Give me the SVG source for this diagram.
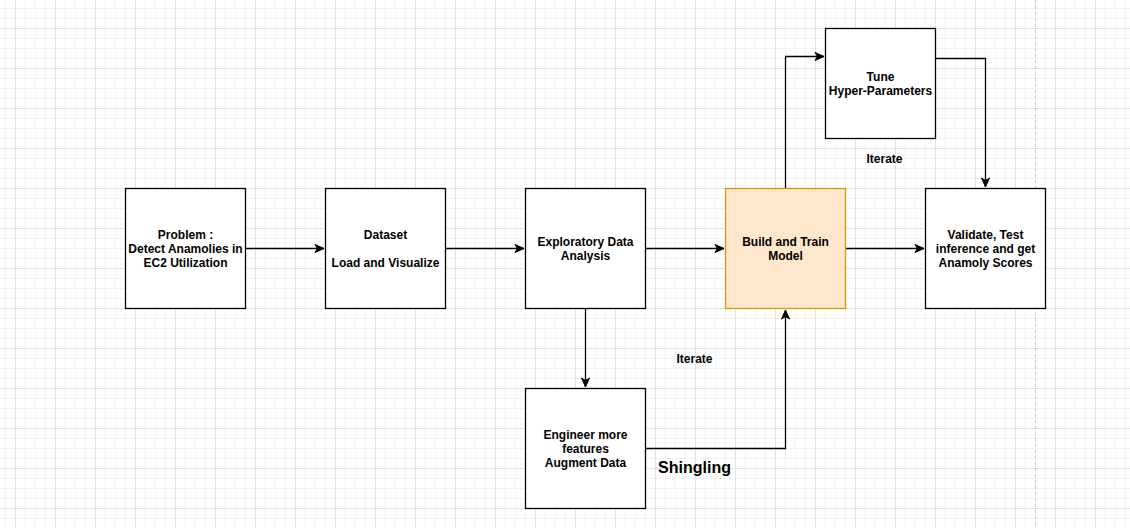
<svg xmlns="http://www.w3.org/2000/svg" width="1130" height="528" viewBox="0 0 1130 528">
  <style>
    .box { fill: #ffffff; stroke: #000000; stroke-width: 1.3; }
    .hot { fill: #ffe6cc; stroke: #d79b00; stroke-width: 1.3; }
    .lbl { font-family: "Liberation Sans", Arial, Helvetica, sans-serif; font-size: 12px; font-weight: bold; fill: #000000; text-anchor: middle; }
    .big { font-size: 16px; }
    .edge { fill: none; stroke: #000000; stroke-width: 1.3; }
  </style>
  <defs>
    <pattern id="grid" patternUnits="userSpaceOnUse" x="15" y="28" width="40" height="40">
      <rect x="10" y="0" width="1" height="40" fill="#f3f3f3"/>
      <rect x="20" y="0" width="1" height="40" fill="#f3f3f3"/>
      <rect x="30" y="0" width="1" height="40" fill="#f3f3f3"/>
      <rect x="0" y="10" width="40" height="1" fill="#f3f3f3"/>
      <rect x="0" y="20" width="40" height="1" fill="#f3f3f3"/>
      <rect x="0" y="30" width="40" height="1" fill="#f3f3f3"/>
      <rect x="0" y="0" width="1" height="40" fill="#e2e2e2"/>
      <rect x="0" y="0" width="40" height="1" fill="#e2e2e2"/>
    </pattern>
    <marker id="arrow" markerUnits="userSpaceOnUse" markerWidth="12" markerHeight="12" refX="10" refY="5" orient="auto">
      <path d="M1,1 L10,5 L1,9 L3.5,5 Z" fill="#000000" stroke="#000000" stroke-width="1"/>
    </marker>
  </defs>

  <!-- canvas background -->
  <rect x="0" y="0" width="1130" height="528" fill="#ffffff"/>
  <rect x="0" y="0" width="1130" height="528" fill="url(#grid)"/>
  <!-- page boundary -->
  <line x1="1035.5" y1="0" x2="1035.5" y2="528" stroke="#c8c8c8" stroke-width="1" stroke-dasharray="3,3"/>

  <!-- connectors -->
  <g id="connectors">
    <path class="edge" d="M245.5,248.5 H324" marker-end="url(#arrow)"/>
    <path class="edge" d="M445.5,248.5 H524" marker-end="url(#arrow)"/>
    <path class="edge" d="M645.5,248.5 H724" marker-end="url(#arrow)"/>
    <path class="edge" d="M845.5,248.5 H924" marker-end="url(#arrow)"/>
    <path class="edge" d="M585.5,308.5 V387" marker-end="url(#arrow)"/>
    <path class="edge" d="M645.5,448.5 H785.5 V310" marker-end="url(#arrow)"/>
    <path class="edge" d="M785.5,188.5 V56.5 H824" marker-end="url(#arrow)"/>
    <path class="edge" d="M935.5,58.5 H985.5 V187" marker-end="url(#arrow)"/>
  </g>

  <g id="problem">
    <rect class="box" x="125.5" y="188.5" width="120" height="120"/>
    <text class="lbl" x="185.5" y="238.5">Problem :</text>
    <text class="lbl" x="185.5" y="252.5">Detect Anamolies in</text>
    <text class="lbl" x="185.5" y="266.5">EC2 Utilization</text>
  </g>

  <g id="dataset">
    <rect class="box" x="325.5" y="188.5" width="120" height="120"/>
    <text class="lbl" x="385.5" y="238.5">Dataset</text>
    <text class="lbl" x="385.5" y="266.5">Load and Visualize</text>
  </g>

  <g id="eda">
    <rect class="box" x="525.5" y="188.5" width="120" height="120"/>
    <text class="lbl" x="585.5" y="246">Exploratory Data</text>
    <text class="lbl" x="585.5" y="259.5">Analysis</text>
  </g>

  <g id="build">
    <rect class="hot" x="725.5" y="188.5" width="120" height="120"/>
    <text class="lbl" x="785.5" y="246">Build and Train</text>
    <text class="lbl" x="785.5" y="259.5">Model</text>
  </g>

  <g id="validate">
    <rect class="box" x="925.5" y="188.5" width="120" height="120"/>
    <text class="lbl" x="985.5" y="238.5">Validate, Test</text>
    <text class="lbl" x="985.5" y="252.5">inference and get</text>
    <text class="lbl" x="985.5" y="266.5">Anamoly Scores</text>
  </g>

  <g id="tune">
    <rect class="box" x="825.5" y="28.5" width="110" height="110"/>
    <text class="lbl" x="880.5" y="81">Tune</text>
    <text class="lbl" x="880.5" y="95">Hyper-Parameters</text>
  </g>

  <g id="engineer">
    <rect class="box" x="525.5" y="388.5" width="120" height="120"/>
    <text class="lbl" x="585.5" y="439">Engineer more</text>
    <text class="lbl" x="585.5" y="453">features</text>
    <text class="lbl" x="585.5" y="467">Augment Data</text>
  </g>

  <g id="iterate-top">
    <text class="lbl" x="884.5" y="163">Iterate</text>
  </g>
  <g id="iterate-bottom">
    <text class="lbl" x="694.5" y="362.5">Iterate</text>
  </g>
  <g id="shingling">
    <text class="lbl big" x="694.5" y="473">Shingling</text>
  </g>
</svg>
